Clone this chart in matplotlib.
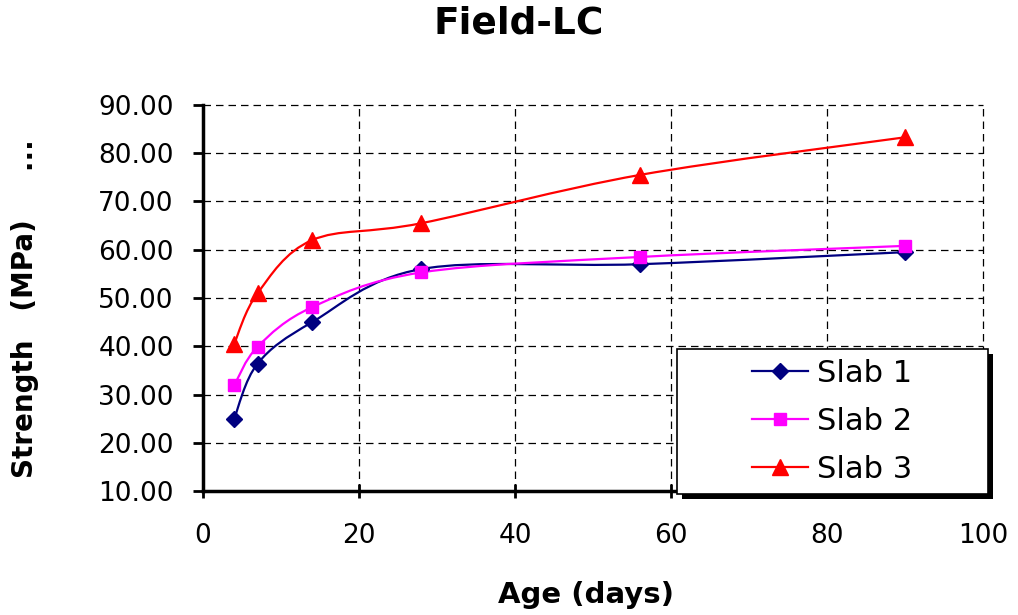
import matplotlib
matplotlib.use("Agg")
import matplotlib.pyplot as plt
import matplotlib.patheffects as pe
from matplotlib.path import Path
from matplotlib.patches import PathPatch, Rectangle

# data
age = [4, 7, 14, 28, 56, 90]
slab1 = [25.0, 36.4, 45.0, 56.0, 57.0, 59.5]
slab2 = [31.9, 39.9, 48.1, 55.3, 58.5, 60.8]
slab3 = [40.5, 51.0, 62.0, 65.5, 75.5, 83.3]
names = ["Slab 1", "Slab 2", "Slab 3"]
colors = ["#000080", "#FF00FF", "#FF0000"]
markers = ["D", "s", "^"]
msizes = [8, 9, 11]
xticks = [0, 20, 40, 60, 80, 100]
yticks = [10, 20, 30, 40, 50, 60, 70, 80, 90]

plt.rcParams["font.family"] = "DejaVu Sans"


def smooth_path(xs, ys):
    # excel-style smoothed line: cubic bezier through the points
    pts = list(zip(xs, ys))
    n = len(pts)
    verts = [pts[0]]
    codes = [Path.MOVETO]
    for i in range(n - 1):
        p0 = pts[i - 1] if i > 0 else pts[i]
        p1 = pts[i]
        p2 = pts[i + 1]
        p3 = pts[i + 2] if i + 2 < n else pts[i + 1]
        c1 = (p1[0] + (p2[0] - p0[0]) / 6, p1[1] + (p2[1] - p0[1]) / 6)
        c2 = (p2[0] - (p3[0] - p1[0]) / 6, p2[1] - (p3[1] - p1[1]) / 6)
        verts += [c1, c2, p2]
        codes += [Path.CURVE4] * 3
    return Path(verts, codes)


fig = plt.figure(figsize=(10.18, 6.15), dpi=100)
ax = fig.add_axes([0.1994, 0.2016, 0.7662, 0.6277])

handles = []
for ys, name, c, m, ms in zip([slab1, slab2, slab3], names, colors, markers, msizes):
    ax.add_patch(PathPatch(smooth_path(age, ys), facecolor="none", edgecolor=c, lw=1.6, zorder=3))
    ax.plot(age, ys, linestyle="none", marker=m, color=c, markersize=ms, zorder=4)
    h, = ax.plot([], [], color=c, lw=1.6, marker=m, markersize=ms, label=name)
    handles.append(h)

ax.set_xlim(0, 100)
ax.set_ylim(10, 90)
ax.set_xticks(xticks)
ax.set_yticks(yticks)
ax.set_yticklabels(["%.2f" % v for v in yticks])
ax.grid(True, color="black", linestyle=(0, (6, 4)), linewidth=0.9)
ax.set_axisbelow(True)
for gl in ax.get_xgridlines() + ax.get_ygridlines():
    gl.set_clip_on(False)
for s in ["top", "right"]:
    ax.spines[s].set_visible(False)
for s in ["left", "bottom"]:
    ax.spines[s].set_linewidth(2.5)
ax.tick_params(axis="y", direction="out", length=7, width=2, labelsize=19, pad=14)
ax.tick_params(axis="x", direction="inout", length=10, width=2, labelsize=19, pad=18)

# legend box with solid shadow
box = Rectangle((0.665, 0.1967), 0.3055, 0.2358, transform=fig.transFigure,
                facecolor="white", edgecolor="black", lw=1.2, zorder=5)
box.set_path_effects([pe.SimplePatchShadow(offset=(3.5, -3.5), shadow_rgbFace="black", alpha=1),
                      pe.Normal()])
fig.add_artist(box)
leg = fig.legend(handles=handles, loc="center", bbox_to_anchor=(0.8175, 0.3146),
                 fontsize=22, frameon=False, handlelength=1.83, handletextpad=0.3,
                 labelspacing=0.62, borderpad=0)
leg.set_zorder(6)

fig.text(0.51, 0.962, "Field-LC", ha="center", va="center", fontsize=27, fontweight="bold")
fig.text(0.576, 0.032, "Age (days)", ha="center", va="center", fontsize=21, fontweight="bold")
fig.text(0.025, 0.498, "Strength   (MPa)     ...", ha="center", va="center", rotation=90,
         fontsize=20, fontweight="bold")

fig.savefig("out.png", dpi=100)
